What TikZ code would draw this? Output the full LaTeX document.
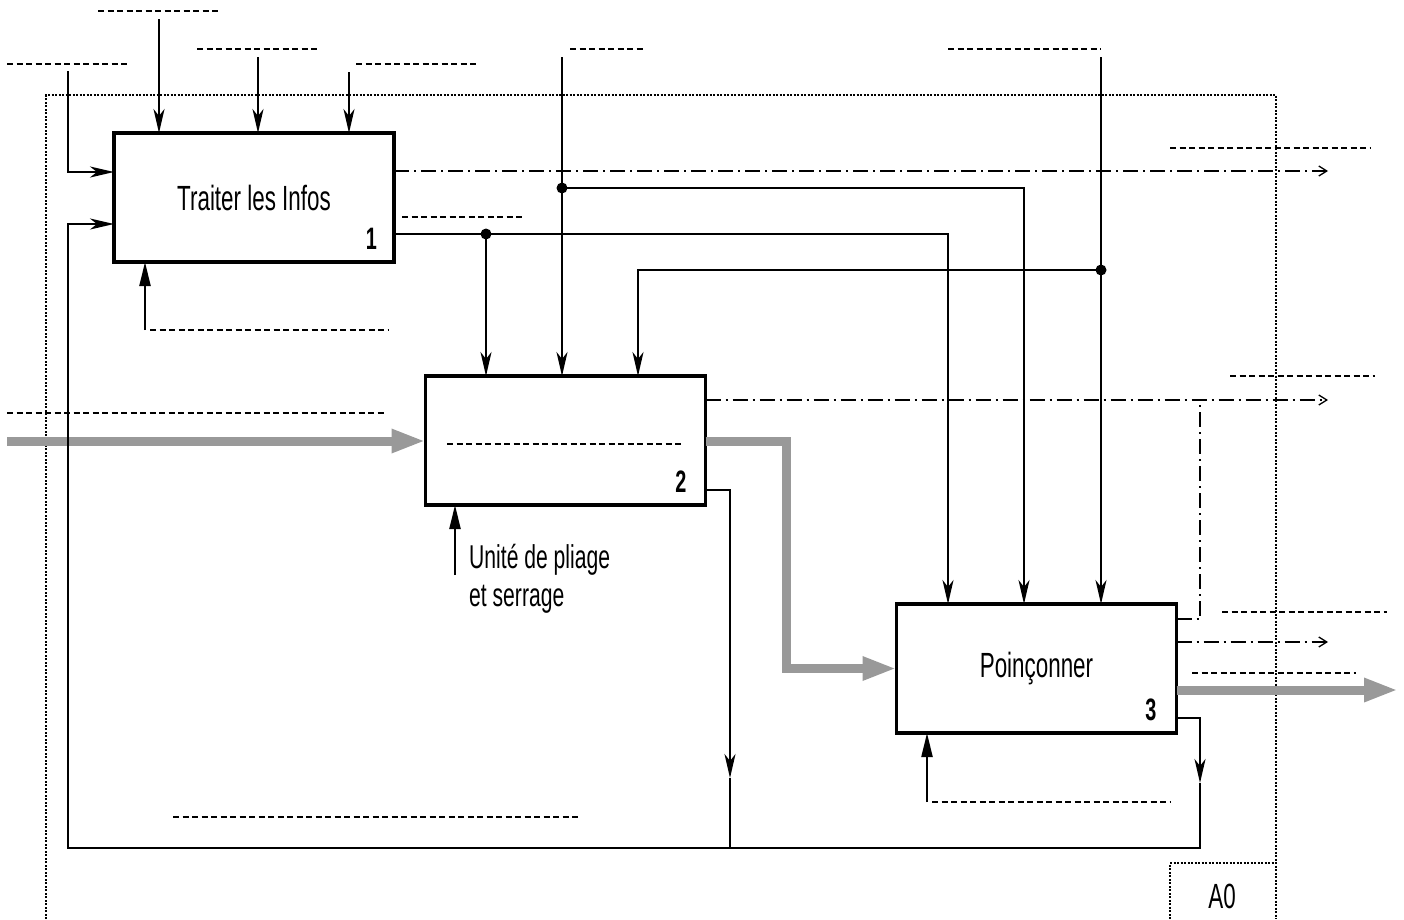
\documentclass[tikz,border=0pt]{standalone}
\usepackage{fontspec}
\setmainfont{Liberation Sans}[FakeStretch=0.64]
\usetikzlibrary{arrows.meta,calc}
\begin{document}
\begin{tikzpicture}[x=1pt,y=-1pt,
  fbox/.style={draw, line width=3.2pt, minimum width=280pt, minimum height=129pt, inner sep=0pt, outer sep=0pt, font=\fontsize{35}{40}\selectfont},
  conn/.style={line width=2.2pt},
  arr/.style={-{Stealth[length=24pt,width=11pt,inset=7pt]}},
  mech/.style={line width=2.2pt,-{Triangle[length=24pt,width=11pt]}},
  lbl/.style={line width=1.3pt, dash pattern=on 6pt off 3.5pt},
  ddline/.style={line width=2.2pt, dash pattern=on 15pt off 5pt on 2pt off 5pt},
  dd/.style={ddline, -{Straight Barb[length=8pt,width=10pt,line width=1.3pt]}},
  flow/.style={line width=9pt, draw=black!40, -{Triangle[length=34pt,width=22pt]}},
  num/.style={font=\fontsize{31}{34}\selectfont\bfseries, anchor=base east, inner sep=0pt},
  txt/.style={font=\fontsize{35}{40}\selectfont, inner sep=0pt},
  ltxt/.style={font=\fontsize{33}{38}\selectfont, inner sep=0pt, anchor=base west},
  jdot/.style={circle, fill, inner sep=0pt, minimum size=11pt},
  frame/.style={line width=2.5pt, dash pattern=on 2pt off 1.5pt}
]
\useasboundingbox (0,0) rectangle (1404,919);

% boxes
\node[fbox] (b1) at (254,197.5) {Traiter les Infos};
\node[fbox] (b2) at (565.5,440.5) {};
\node[fbox] (b3) at (1036.5,668.5) {Poinçonner};
\node[num] at ($(b1.south east)+(-17,-13)$) {1};
\node[num] at ($(b2.south east)+(-19,-13)$) {2};
\node[num] at ($(b3.south east)+(-20,-13)$) {3};

% free ends and junctions
\coordinate (t1) at (159,19);
\coordinate (t2) at (258,57);
\coordinate (t3) at (349,72);
\coordinate (l1) at (68,71);
\coordinate (t4) at (562,57);
\coordinate (t5) at (1101,57);
\coordinate (j1) at (486,234);
\coordinate (j2) at (562,188);
\coordinate (j3) at (1101,270);
\coordinate (m1) at (145,330);
\coordinate (m2) at (455,575);
\coordinate (m3) at (927,802);
\coordinate (o1) at (1328,171);
\coordinate (o2) at (1328,400);
\coordinate (o3) at (1328,642);
\coordinate (o4) at (1398,690);
\coordinate (in2) at (7,441);
\coordinate (k2) at (730,778);
\coordinate (k3) at (1200,783);
\coordinate (bk2) at (730,848);
\coordinate (bk3) at (1200,848);
\coordinate (bk1) at (68,848);
\coordinate (bk0) at (68,224);

% frame
\draw[frame] (46,919) -- (46,95) -- (1276,95) -- (1276,919);
\draw[frame, line width=1.8pt] (1170,919) -- (1170,863) -- (1276,863);
\node[txt, anchor=base] at (1222,908) {A0};

% box 1
\draw[conn,arr] (t1) -- (b1.north -| t1);
\draw[conn,arr] (t2) -- (b1.north -| t2);
\draw[conn,arr] (t3) -- (b1.north -| t3);
\draw[conn,arr] (l1) |- (b1.west |- 0,172);
\draw[mech] (m1) -- (b1.south -| m1);
\draw[dd] (b1.east |- o1) -- (o1);
\draw[conn,arr] (b1.east |- j1) -| (b3.north -| 948,0);
\draw[conn,arr] (j1) -- (b2.north -| j1);
\draw[conn,arr] (t4) -- (b2.north -| t4);
\draw[conn,arr] (j2) -| (b3.north -| 1024,0);
\draw[conn,arr] (t5) -- (b3.north -| t5);
\draw[conn,arr] (j3) -| (b2.north -| 638,0);
\node[jdot] at (j1) {};
\node[jdot] at (j2) {};
\node[jdot] at (j3) {};

% box 2
\draw[flow] (in2) -- (b2.west |- in2);
\draw[flow] (b2.east |- in2) -- (786,441) |- (b3.west);
\draw[dd] (b2.east |- o2) -- (o2);
\draw[conn,arr] (b2.east |- 0,490) -| (k2);
\draw[conn] (k2) -- (bk2);
\draw[mech] (m2) -- (b2.south -| m2);
\node[ltxt] at (469,568) {Unité de pliage};
\node[ltxt] at (469,606) {et serrage};

% box 3
\draw[ddline] (b3.east |- 0,619) -| (1200,400);
\draw[dd] (b3.east |- o3) -- (o3);
\draw[flow] (b3.east |- o4) -- (o4);
\draw[conn,arr] (b3.east |- 0,718) -| (k3);
\draw[conn,arr] (k3) -- (bk3) -- (bk1) -- (bk0) -- (b1.west |- bk0);
\draw[mech] (m3) -- (b3.south -| m3);

% label lines
\foreach \y/\a/\b in {11/98/220, 49/197/320, 64/7/130, 64/356/478, 49/570/645,
  49/948/1101, 148/1170/1370, 217/402/523, 330/150/388, 413/7/385, 444/447/684,
  376/1230/1375, 612/1222/1387, 673/1192/1356, 802/932/1170, 817/173/580}
  \draw[lbl] (\a,\y) -- (\b,\y);
\end{tikzpicture}
\end{document}
